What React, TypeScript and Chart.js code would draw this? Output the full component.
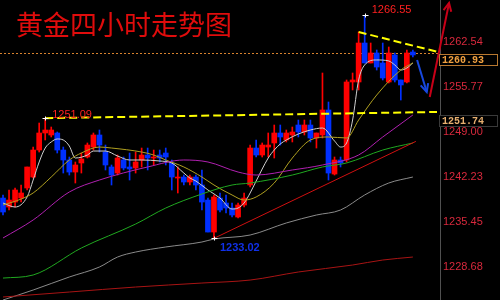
import React, { useEffect, useRef } from "react";
import { Chart, registerables } from "chart.js";

Chart.register(...registerables);

const TITLE = "黄金四小时走势图";

// 73 slots: 69 candles + empty room on the right
const categories = Array.from({ length: 73 }, (_, i) => String(i));

const opens = [1239.08, 1237.73, 1238.48, 1239.08, 1240.59, 1242.24, 1246.30, 1248.86, 1248.56, 1248.86, 1246.30, 1244.80, 1242.99, 1244.35, 1245.25, 1246.75, 1248.56, 1246.00, 1243.75, 1242.84, 1244.80, 1243.75, 1243.60, 1244.80, 1245.55, 1245.10, 1245.55, 1245.85, 1244.35, 1242.09, 1242.24, 1241.49, 1242.24, 1241.04, 1238.78, 1233.97, 1239.08, 1238.33, 1237.58, 1236.23, 1238.03, 1241.04, 1246.60, 1245.55, 1246.75, 1247.36, 1248.86, 1247.81, 1248.56, 1250.06, 1249.01, 1250.06, 1248.11, 1248.56, 1252.32, 1242.69, 1244.80, 1244.80, 1256.53, 1256.53, 1262.39, 1259.39, 1260.89, 1259.39, 1256.53, 1260.59, 1256.83, 1256.53, 1261.04];
const closes = [1236.98, 1238.78, 1240.29, 1239.84, 1243.75, 1246.30, 1248.86, 1249.31, 1249.31, 1246.30, 1244.80, 1242.99, 1244.05, 1244.95, 1247.05, 1248.56, 1247.05, 1244.05, 1242.54, 1245.10, 1243.60, 1243.45, 1244.50, 1245.55, 1245.10, 1245.25, 1245.10, 1245.25, 1242.24, 1242.24, 1241.49, 1242.24, 1241.04, 1238.48, 1233.97, 1239.24, 1237.28, 1237.58, 1236.53, 1238.03, 1239.08, 1246.60, 1245.55, 1247.05, 1247.05, 1248.86, 1248.26, 1248.86, 1249.01, 1249.01, 1250.06, 1248.11, 1248.86, 1252.32, 1242.84, 1244.80, 1244.35, 1256.53, 1256.83, 1262.39, 1259.39, 1260.89, 1258.78, 1257.13, 1260.89, 1256.83, 1256.08, 1260.89, 1260.59];
const highs = [1239.54, 1240.29, 1240.59, 1241.04, 1243.75, 1246.75, 1250.36, 1251.09, 1249.76, 1249.01, 1246.75, 1245.25, 1244.50, 1245.85, 1247.36, 1248.86, 1249.31, 1247.05, 1244.05, 1245.55, 1245.25, 1245.85, 1246.00, 1246.60, 1246.60, 1246.30, 1246.30, 1246.60, 1244.80, 1243.75, 1242.54, 1242.54, 1242.54, 1243.30, 1239.08, 1239.54, 1239.84, 1239.54, 1238.33, 1238.33, 1239.84, 1247.05, 1247.81, 1247.36, 1248.86, 1250.06, 1250.06, 1249.31, 1249.76, 1250.81, 1250.81, 1250.81, 1248.86, 1257.88, 1253.52, 1245.25, 1245.25, 1256.83, 1257.88, 1264.05, 1266.55, 1262.39, 1261.34, 1262.39, 1261.79, 1260.89, 1256.83, 1261.34, 1261.34];
const lows = [1236.53, 1237.28, 1237.73, 1238.48, 1240.29, 1242.09, 1246.00, 1247.81, 1248.26, 1245.85, 1242.84, 1242.54, 1241.34, 1242.84, 1245.10, 1246.30, 1246.00, 1243.30, 1241.04, 1242.54, 1243.30, 1241.79, 1242.84, 1243.75, 1243.30, 1244.05, 1244.50, 1244.05, 1240.29, 1239.84, 1241.04, 1241.04, 1240.29, 1237.28, 1233.97, 1233.02, 1236.98, 1236.83, 1236.23, 1236.08, 1237.73, 1240.74, 1245.25, 1245.25, 1245.25, 1245.10, 1247.05, 1247.51, 1247.51, 1248.26, 1248.56, 1247.51, 1246.60, 1248.11, 1241.79, 1242.54, 1243.75, 1244.50, 1255.33, 1255.33, 1259.39, 1259.39, 1258.33, 1256.83, 1256.38, 1256.53, 1253.82, 1256.38, 1260.29];

// moving averages: [candle index, price]
const maWhite = [[0, 1238.33], [2, 1237.73], [4, 1239.24], [5, 1241.79], [6, 1244.5], [7, 1246.6], [8, 1247.51], [9, 1247.96], [10, 1247.81], [11, 1246.9], [12, 1245.1], [14, 1245.55], [15, 1246.15], [17, 1246.15], [19, 1245.4], [21, 1244.8], [23, 1244.8], [26, 1244.65], [28, 1244.35], [30, 1242.84], [31, 1242.09], [32, 1241.64], [34, 1240.29], [36, 1239.08], [38, 1237.43], [39, 1237.58], [40, 1238.33], [41, 1239.84], [42, 1241.64], [44, 1245.1], [45, 1246.3], [46, 1247.21], [47, 1247.81], [49, 1248.71], [51, 1249.31], [53, 1249.61], [55, 1247.66], [56, 1246.75], [57, 1247.36], [58, 1250.81], [59, 1256.83], [60, 1259.09], [62, 1259.84], [64, 1259.69], [65, 1259.09], [66, 1258.33], [67, 1258.63], [68, 1259.39]];
const maOlive = [[0, 1238.03], [3, 1238.93], [5, 1239.84], [8, 1242.24], [11, 1244.8], [13, 1245.85], [16, 1246.75], [18, 1246.6], [23, 1246.0], [25, 1245.55], [27, 1244.8], [30, 1243.75], [33, 1242.24], [35, 1241.04], [38, 1239.54], [40, 1238.78], [42, 1239.24], [45, 1241.34], [48, 1245.1], [51, 1247.81], [54, 1248.26], [57, 1248.11], [59, 1250.81], [62, 1254.57], [66, 1258.33], [68, 1259.39]];
const maPurple = [[0, 1233.07], [5, 1235.78], [11, 1239.99], [16, 1241.79], [24, 1243.75], [30, 1244.8], [34, 1244.5], [39, 1242.99], [42, 1242.54], [48, 1243.3], [53, 1244.05], [59, 1245.55], [63, 1248.26], [68, 1251.57]];
const maGreen = [[0, 1227.05], [5, 1227.51], [13, 1231.57], [22, 1235.17], [27, 1237.58], [33, 1239.69], [38, 1241.04], [41, 1241.34], [48, 1242.54], [53, 1243.75], [57, 1244.35], [63, 1246.3], [68, 1247.36]];
const maGray = [[0, 1223.75], [5, 1225.25], [11, 1227.21], [16, 1228.71], [19, 1230.21], [22, 1230.96], [27, 1231.72], [33, 1232.47], [35, 1232.92], [41, 1233.52], [47, 1235.33], [52, 1236.53], [56, 1237.28], [60, 1239.54], [64, 1241.34], [68, 1242.24]];
const maDarkRed = [[0, 1224.2], [11, 1224.95], [22, 1225.7], [33, 1226.3], [41, 1226.75], [49, 1227.96], [58, 1229.01], [63, 1229.76], [68, 1230.21]];

const tickValues = [1269.31, 1262.54, 1255.77, 1249.0, 1242.23, 1235.45, 1228.68];
const Y_MIN = 1223.75;
const Y_MAX = 1270.36;

const lastPrice = 1260.93;
const supportPrice = 1251.74;

// annotation lines: [index, price] endpoints
const supportLine = [[7, 1251.09], [72, 1252.02]];
const resistanceLine = [[59, 1264.05], [72.2, 1261.04]];
const trendLine = [[35, 1233.02], [68.5, 1247.6]];
const blueArrow = [[68.7, 1259.84], [70.3, 1255.03]];
const redArrow = [[70.8, 1254.27], [74.0, 1268.41]];

// extreme labels: [index, price, text]
const peakHigh: [number, number, string] = [60, 1266.55, "1266.55"];
const leftHigh: [number, number, string] = [7, 1251.09, "1251.09"];
const lowPoint: [number, number, string] = [35, 1233.02, "1233.02"];

const RED = "#ff0000";
const BLUE = "#0030ff";

function series(pts: number[][]) {
  const a: (number | null)[] = new Array(categories.length).fill(null);
  pts.forEach(([i, v]) => (a[i] = v));
  return a;
}

const annotPlugin = {
  id: "annot",
  beforeDatasetsDraw(chart: any) {
    const { ctx, scales, chartArea } = chart;
    const y = scales.y;
    ctx.save();
    const yy = Math.round(y.getPixelForValue(lastPrice)) + 0.5;
    ctx.strokeStyle = "#d8822e";
    ctx.lineWidth = 1;
    ctx.setLineDash([2, 2]);
    ctx.beginPath();
    ctx.moveTo(chartArea.left, yy);
    ctx.lineTo(chartArea.right, yy);
    ctx.stroke();
    ctx.restore();
  },
  afterDatasetsDraw(chart: any) {
    const { ctx, scales } = chart;
    const x = scales.x;
    const y = scales.y;
    const P = (p: number[]) => [x.getPixelForValue(p[0]), y.getPixelForValue(p[1])];
    ctx.save();
    const line = (pts: number[][], color: string, width: number, dash: number[]) => {
      const a = P(pts[0]);
      const b = P(pts[1]);
      ctx.strokeStyle = color;
      ctx.lineWidth = width;
      ctx.setLineDash(dash);
      ctx.beginPath();
      ctx.moveTo(a[0], a[1]);
      ctx.lineTo(b[0], b[1]);
      ctx.stroke();
      ctx.setLineDash([]);
      return [a, b];
    };
    line(trendLine, "#d01010", 1, []);
    line(supportLine, "#ffff00", 2, [8, 4]);
    line(resistanceLine, "#ffff00", 2, [8, 4]);
    const arrow = (pts: number[][], color: string) => {
      const [a, b] = line(pts, color, 2, []);
      const ang = Math.atan2(b[1] - a[1], b[0] - a[0]);
      const L = 9;
      ctx.strokeStyle = color;
      ctx.lineWidth = 2;
      ctx.beginPath();
      ctx.moveTo(b[0] - L * Math.cos(ang - 0.45), b[1] - L * Math.sin(ang - 0.45));
      ctx.lineTo(b[0], b[1]);
      ctx.lineTo(b[0] - L * Math.cos(ang + 0.45), b[1] - L * Math.sin(ang + 0.45));
      ctx.stroke();
    };
    arrow(blueArrow, "#1848e0");
    arrow(redArrow, "#c80018");

    // white markers at extremes
    ctx.strokeStyle = "#ffffff";
    ctx.lineWidth = 1;
    [peakHigh, leftHigh, lowPoint].forEach((m) => {
      const [px, py] = P([m[0], m[1]]);
      const cx = Math.round(px) + 0.5;
      const cy = Math.round(py) + 0.5;
      ctx.beginPath();
      ctx.moveTo(cx - 3, cy);
      ctx.lineTo(cx + 3, cy);
      ctx.moveTo(cx, cy - 2);
      ctx.lineTo(cx, cy + 2);
      ctx.stroke();
    });

    ctx.textAlign = "left";
    ctx.font = '11px "Liberation Sans", Arial, sans-serif';
    ctx.fillStyle = "#ff2020";
    {
      const [px, py] = P([peakHigh[0], peakHigh[1]]);
      ctx.textBaseline = "middle";
      ctx.fillText(peakHigh[2], px + 7, py - 5);
    }
    {
      const [px, py] = P([leftHigh[0], leftHigh[1]]);
      ctx.textBaseline = "bottom";
      ctx.fillText(leftHigh[2], px + 7, py + 2);
    }
    {
      const [px, py] = P([lowPoint[0], lowPoint[1]]);
      ctx.font = 'bold 11px "Liberation Sans", Arial, sans-serif';
      ctx.fillStyle = "#1030e8";
      ctx.textBaseline = "top";
      ctx.fillText(lowPoint[2], px + 6, py + 4);
    }
    ctx.restore();
  },
  afterDraw(chart: any) {
    const { ctx, scales } = chart;
    const y = scales.y;
    ctx.save();
    // title
    ctx.font = '27px "Noto Sans CJK SC", sans-serif';
    ctx.fillStyle = "#e00c0c";
    ctx.textAlign = "left";
    ctx.textBaseline = "middle";
    ctx.fillText(TITLE, 16, 35);
    // boxed price labels
    const box = (price: number, border: string, color: string) => {
      const top = Math.round(y.getPixelForValue(price)) + 1.5;
      ctx.fillStyle = "#000";
      ctx.fillRect(439.5, top, 58, 11);
      ctx.strokeStyle = border;
      ctx.lineWidth = 1;
      ctx.strokeRect(439.5, top, 58, 11);
      ctx.fillStyle = color;
      ctx.font = 'bold 10px "Liberation Mono", monospace';
      ctx.textBaseline = "middle";
      ctx.fillText(price.toFixed(2), 442, top + 6);
    };
    box(lastPrice, "#b87830", "#f0a040");
    box(supportPrice, "#3a3a3a", "#e8b070");
    ctx.restore();
  },
};

export default function App() {
  const ref = useRef<HTMLCanvasElement>(null);
  useEffect(() => {
    const canvas = ref.current!;
    const colors = opens.map((o, i) => (closes[i] >= o ? RED : BLUE));
    const maDs = (pts: number[][], color: string) => ({
      type: "line" as const,
      data: series(pts),
      borderColor: color,
      borderWidth: 1,
      pointRadius: 0,
      spanGaps: true,
      cubicInterpolationMode: "monotone" as const,
      order: 0,
    });
    const chart = new Chart(canvas, {
      type: "bar",
      data: {
        labels: categories,
        datasets: [
          maDs(maDarkRed, "#a81414"),
          maDs(maGray, "#8a8a8a"),
          maDs(maGreen, "#20a820"),
          maDs(maPurple, "#b020b0"),
          maDs(maOlive, "#b0a020"),
          maDs(maWhite, "#d0d0d0"),
          {
            type: "bar",
            data: opens.map((o, i) => [o, closes[i]]) as any,
            backgroundColor: colors,
            borderWidth: 0,
            barThickness: 5,
            minBarLength: 1,
            grouped: false,
            order: 1,
          } as any,
          {
            type: "bar",
            data: lows.map((l, i) => [l, highs[i]]) as any,
            backgroundColor: colors,
            borderWidth: 0,
            barThickness: 1,
            grouped: false,
            order: 2,
          } as any,
        ],
      },
      options: {
        responsive: false,
        animation: false,
        events: [],
        layout: { padding: 0, autoPadding: false },
        plugins: {
          legend: { display: false },
          tooltip: { enabled: false },
          title: { display: false },
        },
        scales: {
          x: { display: false, offset: true },
          y: {
            position: "right",
            min: Y_MIN,
            max: Y_MAX,
            afterBuildTicks: (s: any) => {
              s.ticks = tickValues.map((v) => ({ value: v }));
            },
            afterFit: (s: any) => {
              s.width = 60;
              s.paddingTop = 0;
              s.paddingBottom = 0;
            },
            grid: { display: false, drawTicks: false },
            border: { display: true, color: "#505050", dash: [1, 2] },
            ticks: {
              color: "#d8283c",
              font: { family: '"Liberation Sans", Arial, sans-serif', size: 11 },
              padding: 3,
              autoSkip: false,
              callback: (v: any) => Number(v).toFixed(2),
            },
          },
        },
      } as any,
      plugins: [annotPlugin],
    });
    return () => chart.destroy();
  }, []);
  return (
    <div style={{ position: "fixed", left: 0, top: -10, width: 500, height: 310, background: "#000" }}>
      <canvas ref={ref} width={500} height={310} style={{ display: "block" }} />
    </div>
  );
}
